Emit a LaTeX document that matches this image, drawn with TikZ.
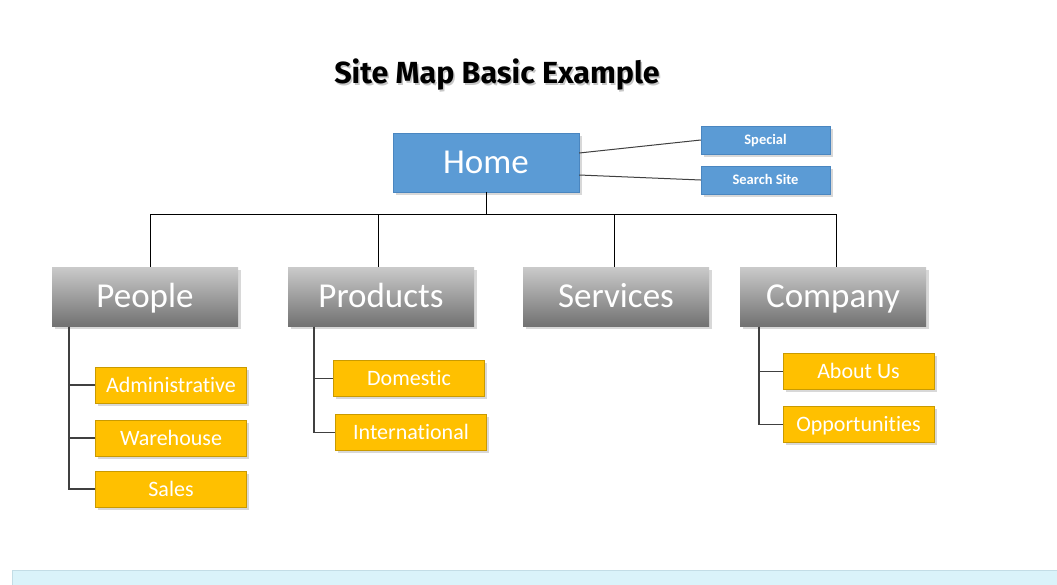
\documentclass[tikz,border=0pt]{standalone}
\usepackage{fontspec}
\setmainfont{Carlito}[Ligatures={NoCommon}]
\newfontfamily\titlefont{Fira Sans}
\usetikzlibrary{shadows}
\definecolor{homeblue}{HTML}{5B9BD5}
\definecolor{homeedge}{HTML}{4A86C0}
\definecolor{orangefill}{HTML}{FFC000}
\definecolor{orangeedge}{HTML}{C99A00}
\definecolor{graytop}{HTML}{CACACA}
\definecolor{graybot}{HTML}{727272}
\definecolor{bandfill}{HTML}{DAF3FA}
\definecolor{bandedge}{HTML}{C3DDE6}
\definecolor{linegray}{HTML}{404040}
\tikzset{
  shad/.style={drop shadow={opacity=0.3,shadow xshift=2.5pt,shadow yshift=-2.5pt}},
  homebox/.style={shad,draw=homeedge,fill=homeblue,minimum width=186pt,minimum height=59pt,inner sep=0pt,text=white,font=\fontsize{35}{38}\selectfont,text height=22.5pt,text depth=0pt},
  smallblue/.style={shad,draw=homeedge,fill=homeblue,minimum width=129pt,minimum height=28pt,inner sep=0pt,text=white,font=\bfseries\fontsize{14.5}{16}\selectfont,text height=9.3pt,text depth=0pt},
  graybox/.style={shad,top color=graytop,bottom color=graybot,draw=none,minimum width=186pt,minimum height=59pt,inner sep=0pt,text=white,font=\fontsize{35}{38}\selectfont,text height=22.5pt,text depth=0pt},
  orangebox/.style={shad,draw=orangeedge,fill=orangefill,minimum width=151pt,minimum height=36pt,inner sep=0pt,text=white,font=\fontsize{22}{24}\selectfont,text height=14.2pt,text depth=0pt},
  conn/.style={draw=black,line width=1pt},
  subconn/.style={draw=linegray,line width=1.2pt},
}
\begin{document}
\begin{tikzpicture}[x=1pt,y=-1pt]
\useasboundingbox (0,0) rectangle (1057,584);
\fill[white] (0,0) rectangle (1057,584);
\draw[fill=bandfill,draw=bandedge] (12,570) rectangle (1060,590);

\node[font=\titlefont\bfseries\fontsize{30.5}{34}\selectfont,text=black!22] at (498.5,76.5) {Site Map Basic Example};
\node[font=\titlefont\bfseries\fontsize{30.5}{34}\selectfont] (title) at (497,75) {Site Map Basic Example};

\node[homebox] (home) at (486,162.5) {Home};
\node[smallblue] (special) at (765.5,140) {Special};
\node[smallblue] (search) at (765.5,180) {Search Site};

\node[graybox] (people) at (145,296.5) {People};
\node[graybox] (products) at (381,296.5) {Products};
\node[graybox] (services) at (616,296.5) {Services};
\node[graybox] (company) at (833,296.5) {Company};

\node[orangebox] (adm) at (171,385) {Administrative};
\node[orangebox] (ware) at (171,438) {Warehouse};
\node[orangebox] (sales) at (171,489) {Sales};
\node[orangebox] (dom) at (409,378.5) {Domestic};
\node[orangebox] (intl) at (411,432.5) {International};
\node[orangebox] (about) at (858.5,371.5) {About Us};
\node[orangebox] (opp) at (858.5,424.5) {Opportunities};

% home side links
\draw[subconn,line width=1pt] ([yshift=9.5pt]home.east) -- (special.west);
\draw[subconn,line width=1pt] ([yshift=-12.5pt]home.east) -- (search.west);

% bus
\coordinate (b1) at (150,214);
\coordinate (b2) at (378,214);
\coordinate (b3) at (614,214);
\coordinate (b4) at (836,214);
\draw[conn] (b1) -- (b4);
\draw[conn] (home.south) -- (home.south |- b1);
\draw[conn] (b1) -- (b1 |- people.north);
\draw[conn] (b2) -- (b2 |- products.north);
\draw[conn] (b3) -- (b3 |- services.north);
\draw[conn] (b4) -- (b4 |- company.north);

% subtrees
\coordinate (pv) at (69,326.5);
\draw[subconn] (pv) |- (adm.west);
\draw[subconn] (pv) |- (ware.west);
\draw[subconn] (pv) |- (sales.west);
\coordinate (prv) at (314,326.5);
\draw[subconn] (prv) |- (dom.west);
\draw[subconn] (prv) |- (intl.west);
\coordinate (cv) at (759,326.5);
\draw[subconn] (cv) |- (about.west);
\draw[subconn] (cv) |- (opp.west);
\end{tikzpicture}
\end{document}
